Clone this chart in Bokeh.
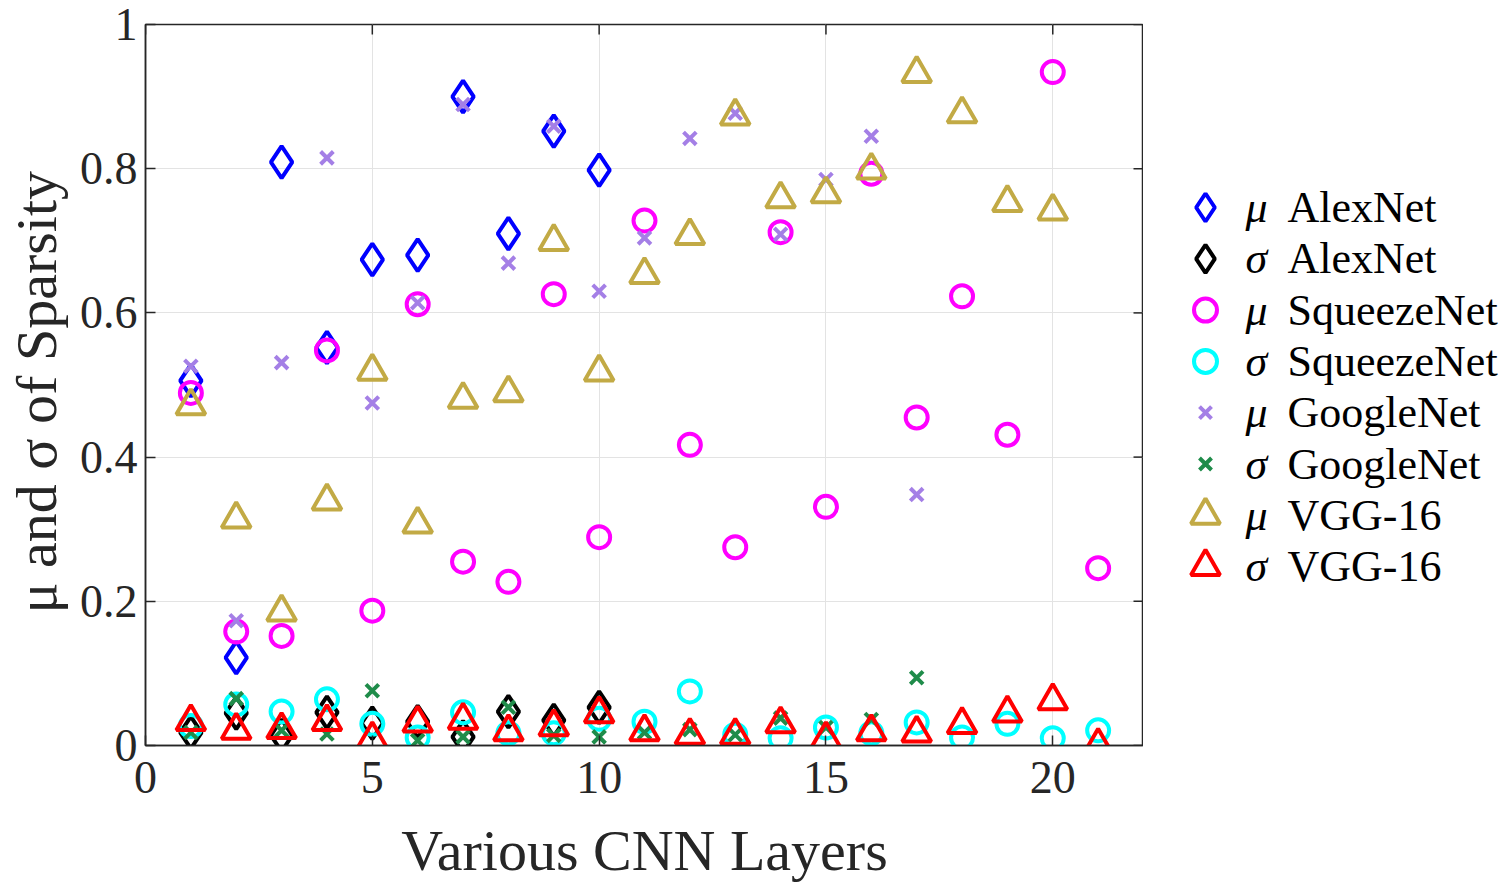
import math
from bokeh.plotting import figure
from bokeh.layouts import row
from bokeh.models import FixedTicker, Range1d
from bokeh.core.properties import value
from bokeh.embed import file_html
from bokeh.resources import INLINE

# ---- data ----
layers_alexnet = list(range(1, 11))
layers_squeezenet = list(range(1, 22))
layers_googlenet = list(range(1, 18))
layers_vgg_mu = list(range(1, 21))
layers_vgg_sigma = list(range(1, 22))

mu_alexnet = [0.506, 0.122, 0.809, 0.552, 0.674, 0.680, 0.900, 0.710, 0.852, 0.798]
sigma_alexnet = [0.018, 0.045, 0.014, 0.046, 0.031, 0.033, 0.012, 0.047, 0.035, 0.053]

mu_squeezenet = [0.489, 0.158, 0.152, 0.548, 0.187, 0.612, 0.255, 0.227, 0.626, 0.289,
                 0.728, 0.417, 0.275, 0.712, 0.331, 0.793, 0.455, 0.623, 0.431, 0.934, 0.246]
sigma_squeezenet = [0.027, 0.057, 0.047, 0.064, 0.030, 0.011, 0.046, 0.017, 0.017, 0.037,
                    0.033, 0.075, 0.015, 0.010, 0.025, 0.017, 0.032, 0.011, 0.030, 0.010, 0.021]

mu_googlenet = [0.526, 0.173, 0.531, 0.815, 0.475, 0.614, 0.889, 0.669, 0.859, 0.630,
                0.704, 0.842, 0.877, 0.709, 0.785, 0.845, 0.348]
sigma_googlenet = [0.018, 0.065, 0.021, 0.016, 0.076, 0.007, 0.012, 0.053, 0.014, 0.012,
                   0.018, 0.022, 0.015, 0.038, 0.025, 0.036, 0.094]

mu_vgg16 = [0.471, 0.314, 0.185, 0.339, 0.519, 0.307, 0.480, 0.489, 0.699, 0.518,
            0.653, 0.707, 0.873, 0.758, 0.765, 0.798, 0.932, 0.876, 0.753, 0.741]
sigma_vgg16 = [0.033, 0.021, 0.022, 0.033, 0.009, 0.031, 0.035, 0.019, 0.026, 0.044,
               0.019, 0.014, 0.014, 0.030, 0.009, 0.019, 0.017, 0.029, 0.045, 0.062, 0.000]

x_ticks = [0, 5, 10, 15, 20]
y_ticks = [0, 0.2, 0.4, 0.6, 0.8, 1]
y_tick_labels = ["0", "0.2", "0.4", "0.6", "0.8", "1"]
X_MAX = 22
Y_MAX = 1

FONT = "Liberation Serif"
AX_COL = "#262626"
BORDER_TOP, BORDER_BOTTOM, FIG_H = 24, 151, 896

p = figure(width=1143, height=FIG_H, x_range=Range1d(0, X_MAX), y_range=Range1d(0, Y_MAX),
           output_backend="svg", toolbar_location=None,
           min_border_left=145, min_border_right=0,
           min_border_top=BORDER_TOP, min_border_bottom=BORDER_BOTTOM)
p.background_fill_color = "white"
p.border_fill_color = "white"
p.outline_line_color = AX_COL
p.outline_line_width = 1.5

# (label, x, y, marker, colour, plot marker size, legend marker size)
series = [
    ("μ AlexNet", layers_alexnet, mu_alexnet, "diamond", "#0000FF", 32, 28),
    ("σ AlexNet", layers_alexnet, sigma_alexnet, "diamond", "#000000", 32, 28),
    ("μ SqueezeNet", layers_squeezenet, mu_squeezenet, "circle", "#FF00FF", 22, 23),
    ("σ SqueezeNet", layers_squeezenet, sigma_squeezenet, "circle", "#00FFFF", 22, 23),
    ("μ GoogleNet", layers_googlenet, mu_googlenet, "x", "#A47FE6", 18, 17),
    ("σ GoogleNet", layers_googlenet, sigma_googlenet, "x", "#1F8C4A", 18, 17),
    ("μ VGG-16", layers_vgg_mu, mu_vgg16, "triangle", "#C2AA45", 29, 29),
    ("σ VGG-16", layers_vgg_sigma, sigma_vgg16, "triangle", "#FF0000", 29, 29),
]

# grids
p.xgrid.ticker = FixedTicker(ticks=x_ticks)
p.ygrid.ticker = FixedTicker(ticks=y_ticks)
for g in (p.xgrid, p.ygrid):
    g.grid_line_color = "#E3E3E3"
    g.grid_line_width = 1

# mirrored inward ticks on the top and right frame edges
p.ray(x=x_ticks, y=[Y_MAX] * len(x_ticks), length=10, length_units="screen",
      angle=-math.pi / 2, line_color=AX_COL, line_width=1.5)
p.ray(x=[X_MAX] * len(y_ticks), y=y_ticks, length=10, length_units="screen",
      angle=math.pi, line_color=AX_COL, line_width=1.5)

for label, xs, ys, marker, color, size, _ in series:
    p.scatter(xs, ys, marker=marker, size=size, line_color=color, line_width=4,
              fill_color=None)

xa = p.xaxis[0]
ya = p.yaxis[0]
for ax, ticks in ((xa, x_ticks), (ya, y_ticks)):
    ax.ticker = FixedTicker(ticks=ticks)
    ax.axis_line_color = AX_COL
    ax.axis_line_width = 1.5
    ax.major_tick_line_color = AX_COL
    ax.major_tick_line_width = 1.5
    ax.major_tick_in = 10
    ax.major_tick_out = 0
    ax.minor_tick_line_color = None
    ax.major_label_text_font = FONT
    ax.major_label_text_color = AX_COL
    ax.major_label_text_font_size = "46px"
    ax.axis_label_text_font = FONT
    ax.axis_label_text_font_style = "normal"
    ax.axis_label_text_color = AX_COL
ya.major_label_overrides = {t: s for t, s in zip(y_ticks, y_tick_labels)}
xa.major_label_standoff = 16
ya.major_label_standoff = 8
xa.axis_label = "Various CNN Layers"
ya.axis_label = "μ and σ of  Sparsity"
xa.axis_label_text_font_size = "58px"
ya.axis_label_text_font_size = "58px"
xa.axis_label_standoff = 22
ya.axis_label_standoff = 8

# ---- legend panel to the right of the axes (drawn as its own small figure) ----
# its frame is aligned with the main frame, so y is given in page pixels (top-down)
LEG_W = 360
LEG_FIRST_ROW = 207      # px from top of page
LEG_ROW_STEP = 51.3      # px per row
LEG_MARK_X = 62
LEG_GREEK_X = 102
LEG_NAME_X = 144

lg = figure(width=LEG_W, height=FIG_H, x_range=Range1d(0, LEG_W),
            y_range=Range1d(FIG_H - BORDER_BOTTOM, BORDER_TOP),
            output_backend="svg", toolbar_location=None,
            min_border_left=0, min_border_right=0,
            min_border_top=BORDER_TOP, min_border_bottom=BORDER_BOTTOM)
lg.axis.visible = False
lg.grid.visible = False
lg.outline_line_color = None
lg.background_fill_color = "white"
lg.border_fill_color = "white"

for i, (label, _, _, marker, color, _, leg_size) in enumerate(series):
    ry = LEG_FIRST_ROW + i * LEG_ROW_STEP
    greek, name = label.split(" ", 1)
    lg.scatter([LEG_MARK_X], [ry], marker=marker, size=leg_size, line_color=color,
               line_width=4, fill_color=None)
    lg.text([LEG_GREEK_X], [ry], text=[greek], text_font=value(FONT),
            text_font_style="italic", text_font_size="44px", text_baseline="middle",
            text_align="left", text_color="black")
    lg.text([LEG_NAME_X], [ry], text=[name], text_font=value(FONT),
            text_font_size="44px", text_baseline="middle",
            text_align="left", text_color="black")

layout = row(p, lg)
open("out.html", "w").write(file_html(layout, INLINE))
